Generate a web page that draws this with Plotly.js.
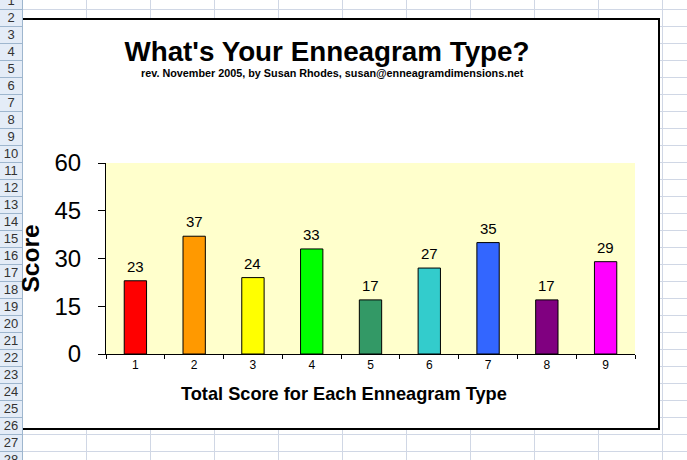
<!DOCTYPE html>
<html>
<head>
<meta charset="utf-8">
<script src="https://cdn.plot.ly/plotly-3.0.1.min.js"></script>
<style>
  html, body { margin:0; padding:0; }
  body { width:687px; height:460px; overflow:hidden; position:relative; background:#fff; font-family:Arial,"Liberation Sans",sans-serif; }
  .hl { position:absolute; left:0; width:687px; height:1px; background:#D0D7E5; }
  .vl { position:absolute; top:0; width:1px; height:460px; background:#D0D7E5; }
  #hdr { position:absolute; left:0; top:0; width:22px; height:460px; background:#E4ECF7; border-right:1px solid #9EB6CE; }
  .hsep { position:absolute; left:0; width:22px; height:1px; background:#9EB6CE; }
  .rn { position:absolute; left:0; width:22px; text-align:center; font-size:13px; color:#333; line-height:17px; height:17px; }
  #box { position:absolute; left:23px; top:18px; width:635px; height:408px; background:#fff; border-top:2px solid #000; border-right:2px solid #000; border-bottom:2px solid #000; }
  #chart { position:absolute; left:0; top:0; width:687px; height:460px; }
</style>
</head>
<body>
<div id="sheet"></div>
<div id="box"></div>
<div id="chart"></div>
<script>
// ---- data ----
const categories = ["1","2","3","4","5","6","7","8","9"];
const scores = [23, 37, 24, 33, 17, 27, 35, 17, 29];
const barColors = ["#FF0000","#FF9900","#FFFF00","#00FF00","#339966","#33CCCC","#3366FF","#800080","#FF00FF"];
const yTicks = [0, 15, 30, 45, 60];
const rowNumbers = Array.from({length: 28}, (_, i) => i + 1);

// ---- spreadsheet backdrop (decoration) ----
const sheet = document.getElementById('sheet');
for (let k = 0; k < 28; k++) {
  const y = 9 + 17 * k;
  const h = document.createElement('div'); h.className = 'hl'; h.style.top = y + 'px'; sheet.appendChild(h);
}
for (let k = 0; k < 11; k++) {
  const x = 86 + 64 * k;
  const v = document.createElement('div'); v.className = 'vl'; v.style.left = x + 'px'; sheet.appendChild(v);
}
const hdr = document.createElement('div'); hdr.id = 'hdr'; sheet.appendChild(hdr);
rowNumbers.forEach((n, i) => {
  const top = -8 + 17 * i;
  const s = document.createElement('div'); s.className = 'hsep'; s.style.top = (top + 17) + 'px'; sheet.appendChild(s);
  const r = document.createElement('div'); r.className = 'rn'; r.style.top = top + 'px'; r.textContent = n; sheet.appendChild(r);
});

// ---- chart ----
const FONT = 'Arial, "Liberation Sans", sans-serif';
const trace = {
  type: 'bar',
  x: categories,
  y: scores,
  marker: { color: barColors, line: { color: '#000', width: 1 } },
  hoverinfo: 'x+y'
};

// value labels above bars (x given as category index)
const labelAnnotations = categories.map((c, i) => ({
  x: i, y: scores[i], xref: 'x', yref: 'y',
  text: String(scores[i]), showarrow: false,
  yanchor: 'bottom', yshift: 4,
  font: { family: FONT, size: 15, color: '#000' }
}));

const layout = {
  width: 687, height: 460,
  margin: { l: 106, r: 52, t: 163, b: 106, pad: 0 },
  paper_bgcolor: 'rgba(0,0,0,0)',
  plot_bgcolor: '#FFFFCC',
  showlegend: false,
  bargap: 0.62,
  title: {
    text: "<b>What's Your Enneagram Type?</b>",
    font: { family: FONT, size: 27.8, color: '#000' },
    x: 327 / 687, xanchor: 'center', xref: 'container',
    y: 1 - 51 / 460, yanchor: 'middle', yref: 'container'
  },
  xaxis: {
    type: 'category',
    range: [-0.5, categories.length - 0.5],
    tickson: 'boundaries',
    ticks: 'outside', ticklen: 4, tickcolor: '#000', tickwidth: 1,
    showline: true, linecolor: '#000', linewidth: 1,
    showgrid: false, zeroline: false,
    tickfont: { family: FONT, size: 12, color: '#000' },
    automargin: false
  },
  yaxis: {
    range: [0, 60],
    tickvals: yTicks,
    ticktext: yTicks.map(String),
    ticks: 'outside', ticklen: 7, tickcolor: '#000', tickwidth: 1,
    ticklabelstandoff: 12,
    showline: true, linecolor: '#000', linewidth: 1,
    showgrid: false, zeroline: false,
    tickfont: { family: FONT, size: 24, color: '#000' },
    automargin: false,
    title: { text: '<b>Score</b>', standoff: 7,
             font: { family: FONT, size: 24.5, color: '#000' } }
  },
  annotations: labelAnnotations.concat([
    {
      xref: 'paper', yref: 'paper',
      x: (332 - 106) / 529, y: (354 - 73) / 191,
      xanchor: 'center', yanchor: 'middle', showarrow: false,
      text: '<b>rev. November 2005, by Susan Rhodes, susan@enneagramdimensions.net</b>',
      font: { family: FONT, size: 10.8, color: '#000' }
    },
    {
      xref: 'paper', yref: 'paper',
      x: (344 - 106) / 529, y: (354 - 394) / 191,
      xanchor: 'center', yanchor: 'middle', showarrow: false,
      text: '<b>Total Score for Each Enneagram Type</b>',
      font: { family: FONT, size: 18.2, color: '#000' }
    }
  ])
};

Plotly.newPlot('chart', [trace], layout, { displayModeBar: false, staticPlot: true });
</script>
</body>
</html>
